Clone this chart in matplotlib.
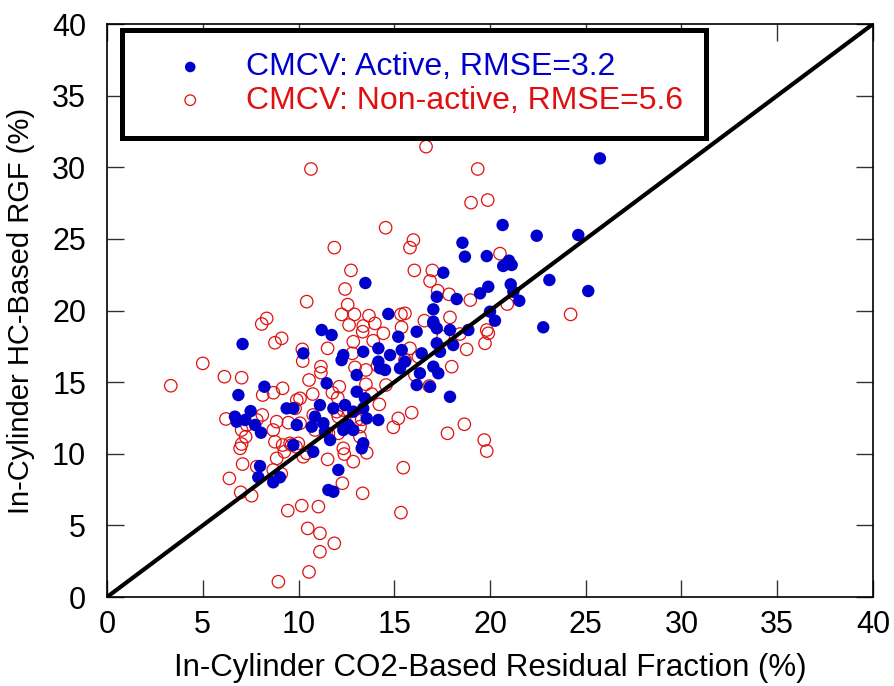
import matplotlib.pyplot as plt
import numpy as np

plt.rcParams["font.family"] = ["Liberation Sans", "DejaVu Sans"]

# CMCV active (filled blue)
active_x = [
    11.21, 11.73, 10.25, 12.34, 12.25, 13.38, 14.17, 14.78, 14.17, 15.21,
    16.17, 17.04, 17.91, 18.87, 17.22, 18.08, 15.39, 15.56, 16.43, 17.39,
    17.04, 17.30, 16.34, 16.17, 16.87, 17.91, 14.26, 14.52, 15.30, 13.04,
    11.47, 13.04, 13.47, 11.12, 11.82, 12.43, 12.86, 13.38, 13.56, 14.17,
    9.73, 10.86, 9.91, 10.69, 11.30, 11.38, 11.65, 12.34, 12.60, 12.86,
    13.38, 13.30, 10.77, 9.73, 12.08, 11.56, 11.82, 17.22,
    7.08, 8.22, 6.86, 9.38, 7.50, 6.68, 6.77, 7.21, 7.73, 8.04,
    7.99, 7.90, 8.68, 9.03,
    18.56, 18.69, 19.83, 17.56, 13.49, 17.22, 18.26, 19.48, 19.91, 17.04,
    14.69, 17.04,
    25.74, 20.66, 22.44, 24.61, 20.99, 20.69, 21.13, 23.10, 21.08, 21.22,
    21.53, 25.13, 20.00, 20.26, 22.78,
]
active_y = [
    18.64, 18.29, 17.01, 16.89, 16.54, 17.12, 17.36, 16.89, 16.43, 18.17,
    18.52, 19.10, 18.64, 18.64, 17.71, 17.59, 17.24, 16.43, 17.01, 17.12,
    16.08, 15.62, 15.62, 14.80, 14.68, 13.98, 15.97, 15.85, 15.97, 15.50,
    14.92, 14.33, 13.87, 13.40, 13.17, 13.40, 12.94, 13.17, 12.47, 12.36,
    13.17, 12.59, 12.01, 11.89, 12.13, 11.54, 10.96, 11.66, 12.01, 11.66,
    10.73, 10.38, 10.14, 10.61, 8.87, 7.47, 7.35, 18.76,
    17.66, 14.68, 14.10, 13.17, 12.98, 12.59, 12.24, 12.36, 12.01, 11.47,
    9.14, 8.36, 8.01, 8.36,
    24.73, 23.76, 23.80, 22.64, 21.92, 20.96, 20.80, 21.20, 21.66, 20.08,
    19.76, 19.22,
    30.62, 25.97, 25.22, 25.27, 23.48, 23.11, 23.18, 22.13, 21.83, 21.31,
    20.68, 21.36, 19.92, 19.29, 18.83,
]

# CMCV non-active (open red)
nonactive_x = [
    8.34, 8.08,
    8.77, 9.12, 5.00, 6.13, 7.03, 3.33, 8.69, 9.17, 8.13, 9.91,
    9.82, 8.11, 6.21, 7.82, 7.30, 8.86, 9.47, 10.08, 8.68, 7.03,
    7.24, 7.03, 6.95, 8.77, 9.17, 9.26, 9.64, 8.86, 7.08, 7.82,
    6.39, 8.68, 9.10, 6.98, 7.55, 9.44, 10.17, 8.95,
    16.66, 10.65, 19.36, 19.01, 19.88, 14.55, 11.87, 16.00, 15.82, 12.74,
    16.05, 16.99, 16.87, 17.27, 17.86, 18.97, 12.43, 10.43, 12.57, 12.25,
    12.92, 13.68, 15.35, 15.56, 17.91, 16.57, 12.64, 13.38, 13.99, 15.38,
    19.83,
    13.35, 14.43, 12.86, 13.90, 17.56, 18.43, 19.74, 18.78, 10.20, 10.22,
    11.52, 12.81, 15.82, 16.26, 15.56, 14.13, 12.95, 13.52, 11.17, 11.17,
    10.55, 16.08, 18.00, 12.13, 13.52, 14.57, 16.83, 11.77, 12.05, 10.74,
    10.08, 13.82, 14.22, 10.77, 11.99, 12.34, 12.08, 13.04, 13.30, 13.21,
    15.21, 15.91, 14.95, 10.86, 11.56, 12.08, 13.21, 9.56, 9.99, 9.87,
    10.43, 10.25, 11.52, 12.34, 12.39, 12.86, 13.56, 17.78, 18.66, 19.70,
    19.83, 15.47, 12.29, 13.35, 11.04, 15.35,
    20.52, 20.90, 24.21, 19.91,
    10.48, 11.12, 11.87, 11.12, 10.55,
]
nonactive_y = [
    19.45, 19.06,
    17.75, 18.06, 16.31, 15.38, 15.31, 14.75, 14.26, 14.57, 14.10, 13.75,
    13.17, 12.71, 12.43, 12.36, 12.01, 12.24, 12.17, 12.13, 11.66, 11.66,
    11.19, 10.68, 10.38, 10.84, 10.61, 10.14, 10.61, 9.68, 9.28, 9.10,
    8.28, 8.87, 8.60, 7.31, 7.07, 6.03, 6.38, 1.07,
    31.44, 29.88, 29.88, 27.53, 27.71, 25.78, 24.39, 24.92, 24.39, 22.80,
    22.80, 22.80, 22.06, 21.38, 21.13, 20.73, 21.50, 20.62, 20.41, 19.73,
    19.73, 19.64, 19.73, 19.80, 19.52, 19.29, 18.99, 18.92, 19.10, 18.83,
    18.64,
    18.52, 18.41, 17.82, 17.89, 18.17, 18.36, 17.71, 17.29, 17.29, 16.47,
    17.36, 17.01, 17.36, 16.77, 16.54, 16.15, 16.03, 15.85, 16.08, 15.66,
    15.15, 15.50, 16.08, 14.68, 14.85, 14.80, 14.73, 14.26, 13.91, 14.17,
    13.87, 14.17, 13.45, 12.71, 12.94, 13.05, 12.59, 12.36, 12.40, 11.89,
    12.47, 12.87, 11.85, 11.66, 11.43, 11.43, 11.19, 10.73, 10.73, 10.49,
    10.03, 9.79, 9.61, 10.38, 9.98, 9.45, 10.07, 11.43, 12.06, 10.96,
    10.19, 9.03, 7.94, 7.24, 6.31, 5.89,
    23.97, 20.45, 19.73, 18.41,
    4.79, 4.45, 3.75, 3.16, 1.75,
]

ticks = [0, 5, 10, 15, 20, 25, 30, 35, 40]

BLUE = "#0000cc"
RED = "#e01010"

fig = plt.figure(figsize=(8.94, 6.86), dpi=100)
ax = fig.add_axes([0.1197, 0.1297, 0.8568, 0.8353])

ax.scatter(nonactive_x, nonactive_y, s=80, facecolors="none", edgecolors=RED,
           linewidths=0.9, label="CMCV: Non-active, RMSE=5.6", zorder=2)
ax.scatter(active_x, active_y, s=80, color=BLUE, edgecolors="none",
           label="CMCV: Active, RMSE=3.2", zorder=3)
ax.plot([0, 40], [0, 40], color="black", linewidth=3, zorder=4)

ax.set_xlim(0, 40)
ax.set_ylim(0, 40)
ax.set_xticks(ticks)
ax.set_yticks(ticks)
ax.tick_params(direction="in", length=12, width=1, top=True, right=True,
               labelsize=22, color="#333333")
ax.tick_params(axis="x", pad=9)
ax.tick_params(axis="y", pad=15)
for s in ax.spines.values():
    s.set_linewidth(1.2)

ax.set_xlabel("In-Cylinder CO2-Based Residual Fraction (%)", fontsize=22.5, labelpad=10)
ax.set_ylabel("In-Cylinder HC-Based RGF (%)", fontsize=21, labelpad=12)

handles, labels = ax.get_legend_handles_labels()
leg = ax.legend(handles[::-1], labels[::-1], loc="upper left",
                bbox_to_anchor=(0.0196, 0.9895), borderaxespad=0,
                fontsize=23, markerscale=0.85,
                fancybox=False, framealpha=1, edgecolor="black",
                handletextpad=0.32, borderpad=0.7, labelspacing=0.1,
                handlelength=2.87)
leg.get_frame().set_linewidth(3.6)
for txt, col in zip(leg.get_texts(), [BLUE, RED]):
    txt.set_color(col)

fig.savefig("out.png", dpi=100)
